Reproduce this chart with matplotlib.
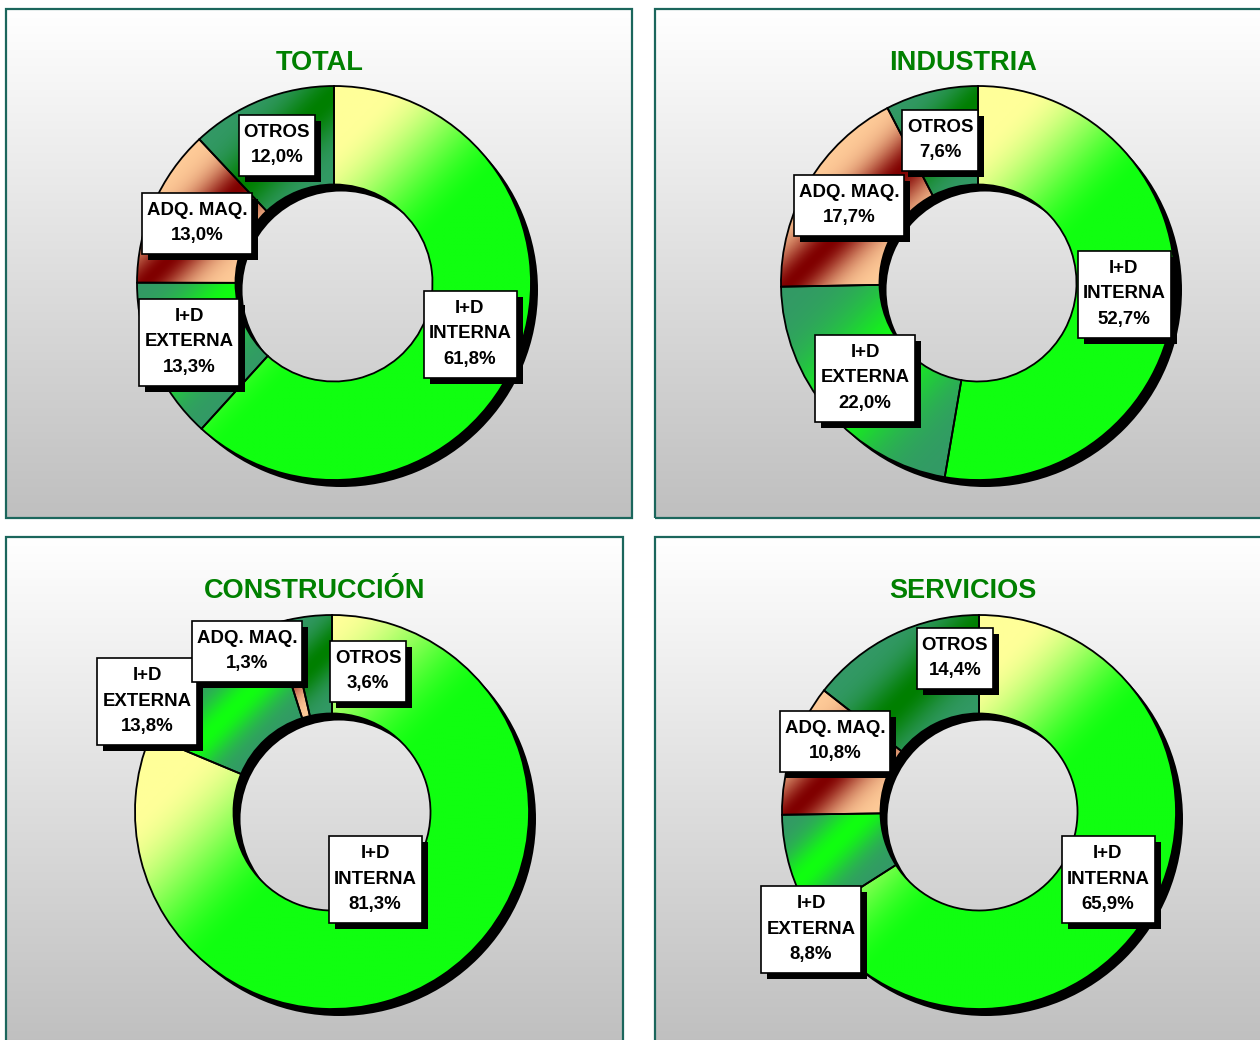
import numpy as np
import matplotlib
matplotlib.use('Agg')
import matplotlib.pyplot as plt
from matplotlib.patches import Rectangle
from matplotlib.colors import to_rgb

plt.rcParams['font.family'] = ['Liberation Sans', 'DejaVu Sans']

# data
titles = ['TOTAL', 'INDUSTRIA', 'CONSTRUCCIÓN', 'SERVICIOS']
categories = ['I+D\nINTERNA', 'I+D\nEXTERNA', 'ADQ. MAQ.', 'OTROS']
total = [61.8, 13.3, 13.0, 12.0]
industria = [52.7, 22.0, 17.7, 7.6]
construccion = [81.3, 13.8, 1.3, 3.6]
servicios = [65.9, 8.8, 10.8, 14.4]
series = [total, industria, construccion, servicios]

# layout (reference pixels, y measured from top)
W, H = 1260, 1040
panels = [(6, 9, 626, 509), (655, 9, 620, 509), (6, 537, 617, 509), (655, 537, 620, 509)]
title_pos = [(320, 63), (963, 63), (315, 591), (963, 591)]
centers = [(334, 283), (978, 283), (332, 812), (979, 812)]
R = 197
label_pos = [
    [(470, 334), (189, 342), (197, 223), (277, 145)],
    [(1124, 294), (865, 378), (849, 205), (940, 140)],
    [(375, 879), (147, 701), (247, 651), (368, 671)],
    [(1108, 879), (811, 929), (835, 741), (955, 658)],
]

# fill styles: (mode, colour A, colour B)
styles = [
    ('ramp', '#ffff99', '#10ff10'),
    ('band', '#339966', '#10ff10'),
    ('band', '#ffcc99', '#800000'),
    ('band', '#339966', '#007f00'),
]


def Y(y):
    return H - y


def gradient_fill(ax, wedge, mode, ca, cb, z):
    path = wedge.get_path()
    v = path.vertices
    x0, y0 = v.min(axis=0)
    x1, y1 = v.max(axis=0)
    n = 300
    gx, gy = np.meshgrid(np.linspace(x0, x1, n), np.linspace(y0, y1, n))
    p = gx - gy  # grows towards the lower right of the screen
    inside = path.contains_points(np.c_[gx.ravel(), gy.ravel()]).reshape(gx.shape)
    if inside.any():
        pmin, pmax = p[inside].min(), p[inside].max()
    else:
        pmin, pmax = p.min(), p.max()
    t = np.clip((p - pmin) / max(pmax - pmin, 1e-9), 0, 1)
    if mode == 'ramp':
        f = np.clip((t - 0.12) / 0.4, 0, 1)
        f = f * f * (3 - 2 * f)
    else:
        f = np.exp(-((t - 0.5) / 0.22) ** 2)
    a = np.array(to_rgb(ca))
    b = np.array(to_rgb(cb))
    rgb = a[None, None, :] * (1 - f[..., None]) + b[None, None, :] * f[..., None]
    img = ax.imshow(rgb, extent=(x0, x1, y0, y1), origin='lower', zorder=z,
                    interpolation='bilinear', aspect='auto')
    img.set_clip_path(wedge)


fig = plt.figure(figsize=(12.6, 10.4), dpi=100)
ax = fig.add_axes([0, 0, 1, 1])

# panel backgrounds
bg = np.linspace(1.0, 0.75, 256)[:, None] * np.ones((1, 2))
for (px, py, pw, ph) in panels:
    ax.imshow(np.dstack([bg, bg, bg]), extent=(px, px + pw, Y(py + ph), Y(py)),
              origin='upper', aspect='auto', zorder=0, interpolation='bilinear')
    ax.add_patch(Rectangle((px, Y(py + ph)), pw, ph, fill=False,
                           edgecolor='#1b665c', linewidth=1.6, zorder=0.5))

texts = []
for i, vals in enumerate(series):
    cx, cy = centers[i]
    # drop shadow of the ring
    ax.pie([1], radius=R, center=(cx + 7, Y(cy) - 7), colors=['black'],
           wedgeprops=dict(width=R * 0.5, linewidth=0, zorder=1))
    wedges, _ = ax.pie(vals, radius=R, center=(cx, Y(cy)), startangle=90,
                       counterclock=False,
                       wedgeprops=dict(width=R * 0.5, edgecolor='black',
                                       linewidth=1.3, zorder=3))
    for w, st in zip(wedges, styles):
        gradient_fill(ax, w, st[0], st[1], st[2], 2)
        w.set_facecolor('none')

    ax.text(title_pos[i][0], Y(title_pos[i][1]), titles[i], ha='center', va='center',
            fontsize=19.5, fontweight='bold', color='#008000', zorder=6)

    for j, (cat, v) in enumerate(zip(categories, vals)):
        lx, ly = label_pos[i][j]
        s = cat + '\n' + ('%.1f' % v).replace('.', ',') + '%'
        t = ax.text(lx, Y(ly), s, ha='center', va='center', multialignment='center',
                    fontsize=13.4, fontweight='bold', color='black', linespacing=1.65,
                    zorder=8)
        texts.append(t)

ax.set_xlim(0, W)
ax.set_ylim(0, H)
ax.set_aspect('auto')
ax.axis('off')

# boxes behind the labels, sized from the rendered text
fig.canvas.draw()
rend = fig.canvas.get_renderer()
for t in texts:
    bb = t.get_window_extent(rend)
    x0, y0, x1, y1 = bb.x0 - 5, bb.y0 - 10, bb.x1 + 5, bb.y1 + 9
    ax.add_patch(Rectangle((x0 + 6, y0 - 6), x1 - x0, y1 - y0, facecolor='black',
                           edgecolor='none', zorder=6))
    ax.add_patch(Rectangle((x0, y0), x1 - x0, y1 - y0, facecolor='white',
                           edgecolor='black', linewidth=1.2, zorder=7))

fig.savefig('out.png', dpi=100)
